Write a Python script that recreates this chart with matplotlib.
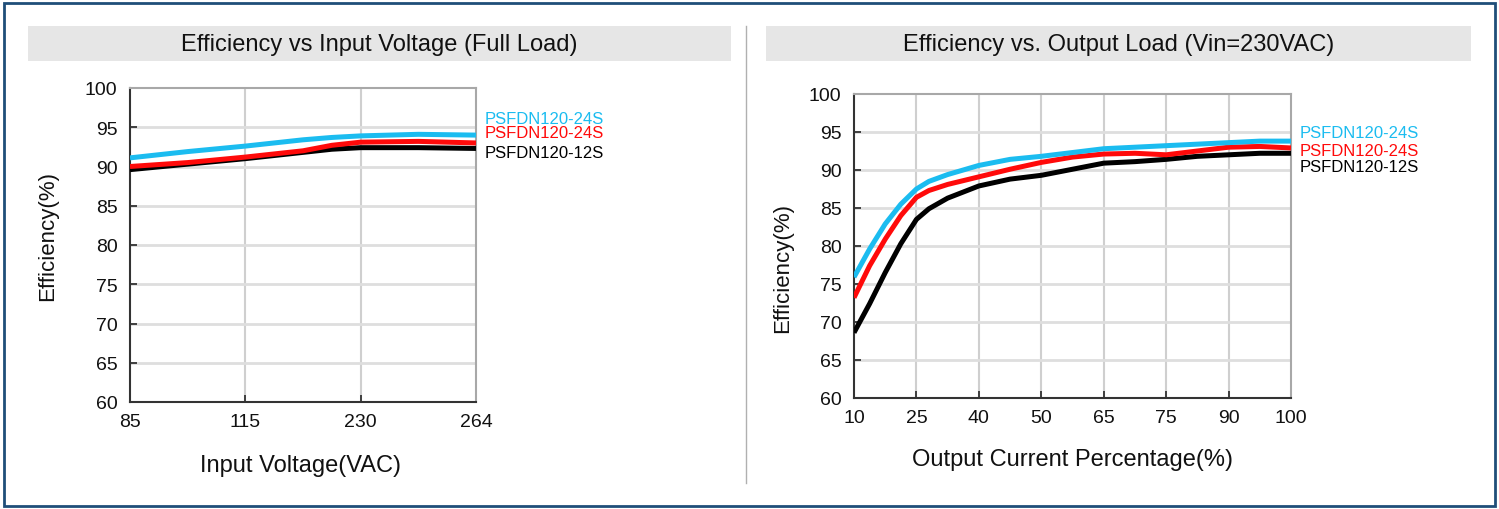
import matplotlib
matplotlib.use("Agg")
import matplotlib.pyplot as plt
from matplotlib.patches import Rectangle
from matplotlib.lines import Line2D

plt.rcParams['font.family'] = ['Liberation Sans', 'DejaVu Sans']

# ---------------- data ----------------
left_title = "Efficiency vs Input Voltage (Full Load)"
left_xlabel = "Input Voltage(VAC)"
left_xticklabels = ["85", "115", "230", "264"]
left_x = [0, 0.5, 1, 1.5, 1.75, 2, 2.5, 3]          # position along the category axis
left_cyan = [91.1, 91.9, 92.6, 93.4, 93.7, 93.9, 94.1, 94.0]
left_red = [90.0, 90.5, 91.2, 92.0, 92.7, 93.1, 93.2, 93.0]
left_black = [89.6, 90.3, 91.0, 91.8, 92.2, 92.4, 92.4, 92.3]

right_title = "Efficiency vs. Output Load (Vin=230VAC)"
right_xlabel = "Output Current Percentage(%)"
right_xticklabels = ["10", "25", "40", "50", "65", "75", "90", "100"]
right_x = [0, 0.25, 0.5, 0.75, 1, 1.2, 1.5, 2, 2.5, 3, 3.5, 4, 4.5, 5, 5.5, 6, 6.5, 7]
right_cyan = [75.9, 79.6, 82.9, 85.5, 87.5, 88.5, 89.4, 90.6, 91.4, 91.8, 92.3, 92.8,
              93.0, 93.2, 93.4, 93.6, 93.8, 93.8]
right_red = [73.2, 77.4, 80.9, 84.0, 86.4, 87.3, 88.1, 89.1, 90.1, 91.0, 91.7, 92.1,
             92.2, 92.0, 92.5, 93.0, 93.1, 92.9]
right_black = [68.6, 72.4, 76.5, 80.3, 83.5, 84.9, 86.3, 87.9, 88.8, 89.3, 90.1, 90.9,
               91.1, 91.4, 91.8, 92.0, 92.2, 92.2]

series_names = ["PSFDN120-24S", "PSFDN120-24S", "PSFDN120-12S"]
yticks = [60, 65, 70, 75, 80, 85, 90, 95, 100]
ylabel = "Efficiency(%)"

CYAN = "#1bbcf0"
RED = "#ff0a0a"
BLACK = "#000000"

W, H = 1499, 510
fig = plt.figure(figsize=(W / 100, H / 100), dpi=100)


def fx(px):
    return px / W


def fy(py):
    return 1 - py / H


# outer border
fig.add_artist(Rectangle((fx(4), fy(507)), fx(1491), (503) / H, transform=fig.transFigure,
                         fill=False, edgecolor="#1f4e79", linewidth=2.0))
# separator
fig.add_artist(Line2D([fx(746), fx(746)], [fy(27), fy(484)], transform=fig.transFigure,
                      color="#b0b0b0", linewidth=1.0))

# title bars
for (x0, x1, title) in [(28, 731, left_title), (766, 1471, right_title)]:
    fig.add_artist(Rectangle((fx(x0), fy(62)), (x1 - x0) / W, 35 / H, transform=fig.transFigure,
                             facecolor="#e6e6e6", edgecolor="none"))
    fig.text(fx((x0 + x1) / 2), fy(45), title, ha="center", va="center", fontsize=17, color="#111111")


def make_axes(rect_px, x, cyan, red, black, xticklabels, xlabel, ylabel_pos, xlabel_pos, legend_px):
    l, t, r, b = rect_px
    ax = fig.add_axes([fx(l), fy(b), (r - l) / W, (b - t) / H])
    n = len(xticklabels)
    ax.set_xlim(0, n - 1)
    ax.set_ylim(60, 100)
    ax.set_xticks(range(n))
    ax.set_xticklabels(xticklabels)
    ax.set_yticks(yticks)
    ax.set_yticklabels([str(v) for v in yticks])
    for v in range(1, n - 1):
        ax.axvline(v, color="#cfcfcf", linewidth=1.5, zorder=1)
    for v in yticks[1:-1]:
        ax.axhline(v, color="#dedede", linewidth=2.0, zorder=1)
    ax.plot(x, black, color=BLACK, linewidth=3.6, solid_joinstyle="round", solid_capstyle="butt", zorder=3)
    ax.plot(x, red, color=RED, linewidth=3.6, solid_joinstyle="round", solid_capstyle="butt", zorder=4)
    ax.plot(x, cyan, color=CYAN, linewidth=3.6, solid_joinstyle="round", solid_capstyle="butt", zorder=5)
    for s in ["left", "bottom"]:
        ax.spines[s].set_color("#333333")
        ax.spines[s].set_linewidth(1.5)
    for s in ["top", "right"]:
        ax.spines[s].set_color("#a8a8a8")
        ax.spines[s].set_linewidth(1.5)
    ax.tick_params(axis="both", direction="in", length=5, width=1.3, color="#333333",
                   labelsize=14, labelcolor="#111111")
    ax.tick_params(axis="y", pad=9)
    ax.tick_params(axis="x", pad=8)
    ax.set_ylabel(ylabel, fontsize=16, color="#111111")
    ax.set_xlabel(xlabel, fontsize=17, color="#111111")
    # label positions in pixels
    ax.yaxis.set_label_coords((ylabel_pos[0] - l) / (r - l), (b - ylabel_pos[1]) / (b - t))
    ax.xaxis.set_label_coords((xlabel_pos[0] - l) / (r - l), (b - xlabel_pos[1]) / (b - t))
    ax.yaxis.label.set_va("center")
    ax.xaxis.label.set_va("center")
    for name, color, ly in zip(series_names, [CYAN, RED, BLACK], legend_px[1]):
        fig.text(fx(legend_px[0]), fy(ly), name, color=color, fontsize=12, ha="left", va="center")
    return ax


make_axes((130, 89, 476, 403), left_x, left_cyan, left_red, left_black,
          left_xticklabels, left_xlabel, (48, 236), (301, 466), (485, (119, 134, 154)))
make_axes((854, 95, 1291, 399), right_x, right_cyan, right_red, right_black,
          right_xticklabels, right_xlabel, (783, 268), (1072, 460), (1300, (134, 151, 168)))

fig.savefig("out.png", dpi=100)
